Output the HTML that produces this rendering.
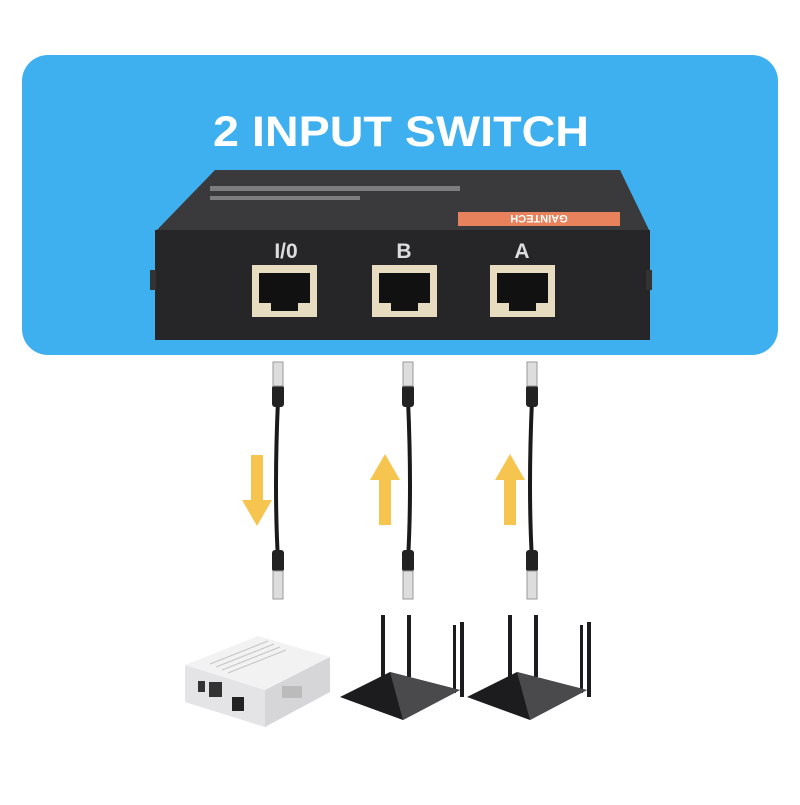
<!DOCTYPE html>
<html><head><style>
body{margin:0;width:800px;height:800px;background:#fff;overflow:hidden;font-family:"Liberation Sans",sans-serif}
</style></head><body>
<svg width="800" height="800" viewBox="0 0 800 800" xmlns="http://www.w3.org/2000/svg">
<rect x="22" y="55" width="756" height="300" rx="26" fill="#3fb0ef"/>
<text x="401" y="146" text-anchor="middle" font-size="43" font-weight="bold" fill="#fff" textLength="376" lengthAdjust="spacingAndGlyphs">2 INPUT SWITCH</text>
<!-- switch -->
<polygon points="215,170 620,170 650,232 155,232" fill="#3a3a3c"/>
<rect x="155" y="230" width="495" height="110" fill="#262628"/>
<rect x="150" y="270" width="6" height="20" fill="#333"/>
<rect x="646" y="270" width="6" height="20" fill="#333"/>
<rect x="458" y="212" width="162" height="14" fill="#e8825c"/>
<text x="539" y="223" text-anchor="middle" font-size="11" font-weight="bold" fill="#fff" transform="rotate(180 539 219)">GAINTECH</text>
<rect x="210" y="186" width="250" height="5" fill="#aaa" opacity=".6"/>
<rect x="210" y="196" width="150" height="4" fill="#aaa" opacity=".6"/>
<text x="286" y="258" text-anchor="middle" font-size="21" font-weight="bold" fill="#ddd">I/0</text>
<text x="404" y="258" text-anchor="middle" font-size="21" font-weight="bold" fill="#ddd">B</text>
<text x="522" y="258" text-anchor="middle" font-size="21" font-weight="bold" fill="#ddd">A</text>
<g fill="#e8dcc0">
<rect x="252" y="265" width="65" height="52"/><rect x="372" y="265" width="65" height="52"/><rect x="490" y="265" width="65" height="52"/></g>
<g fill="#111">
<path d="M259 273h51v30h-12v8h-27v-8h-12z"/><path d="M379 273h51v30h-12v8h-27v-8h-12z"/><path d="M497 273h51v30h-12v8h-27v-8h-12z"/></g>
<!-- cables -->
<g stroke="#1a1a1a" stroke-width="4" fill="none">
<path d="M278 400 Q274 490 278 560"/><path d="M408 400 Q412 490 408 560"/><path d="M532 400 Q528 490 532 560"/></g>
<g fill="#222">
<rect x="272" y="385" width="12" height="22" rx="3"/><rect x="272" y="550" width="12" height="22" rx="3"/>
<rect x="402" y="385" width="12" height="22" rx="3"/><rect x="402" y="550" width="12" height="22" rx="3"/>
<rect x="526" y="385" width="12" height="22" rx="3"/><rect x="526" y="550" width="12" height="22" rx="3"/></g>
<g fill="#ddd" stroke="#999" stroke-width="1">
<rect x="273" y="362" width="10" height="24"/><rect x="273" y="571" width="10" height="28"/>
<rect x="403" y="362" width="10" height="24"/><rect x="403" y="571" width="10" height="28"/>
<rect x="527" y="362" width="10" height="24"/><rect x="527" y="571" width="10" height="28"/></g>
<!-- arrows -->
<g fill="#f6c550">
<path d="M251 455h12v45h9l-15 26l-15-26h9z"/>
<path d="M379 525h12v-45h9l-15-26l-15 26h9z"/>
<path d="M504 525h12v-45h9l-15-26l-15 26h9z"/></g>
<!-- white box -->
<polygon points="185,665 258,636 330,657 265,690" fill="#f2f2f2"/>
<polygon points="185,665 265,690 265,727 185,702" fill="#e4e4e6"/>
<polygon points="265,690 330,657 330,692 265,727" fill="#d6d6d8"/>
<g stroke="#c4c4c4" stroke-width="1">
<line x1="210" y1="664" x2="268" y2="641"/><line x1="216" y1="667" x2="274" y2="644"/><line x1="222" y1="670" x2="280" y2="647"/><line x1="228" y1="673" x2="286" y2="650"/></g>
<rect x="198" y="681" width="7" height="11" fill="#333"/>
<rect x="209" y="682" width="13" height="15" fill="#333"/>
<rect x="232" y="697" width="12" height="14" fill="#222"/>
<rect x="282" y="686" width="20" height="12" fill="#bbb"/>
<!-- routers -->
<g fill="#1c1c1e">
<polygon points="340,697 390,672 460,690 403,720"/>
<polygon points="467,697 517,672 587,690 530,720"/>
<rect x="381" y="615" width="4" height="65"/><rect x="407" y="615" width="4" height="62"/><rect x="453" y="625" width="3" height="68"/><rect x="460" y="622" width="4" height="75"/>
<rect x="508" y="615" width="4" height="65"/><rect x="534" y="615" width="4" height="62"/><rect x="580" y="625" width="3" height="68"/><rect x="587" y="622" width="4" height="75"/></g>
<g fill="#4a4a4c">
<polygon points="390,672 460,690 403,720"/>
<polygon points="517,672 587,690 530,720"/></g>
</svg>
</body></html>
